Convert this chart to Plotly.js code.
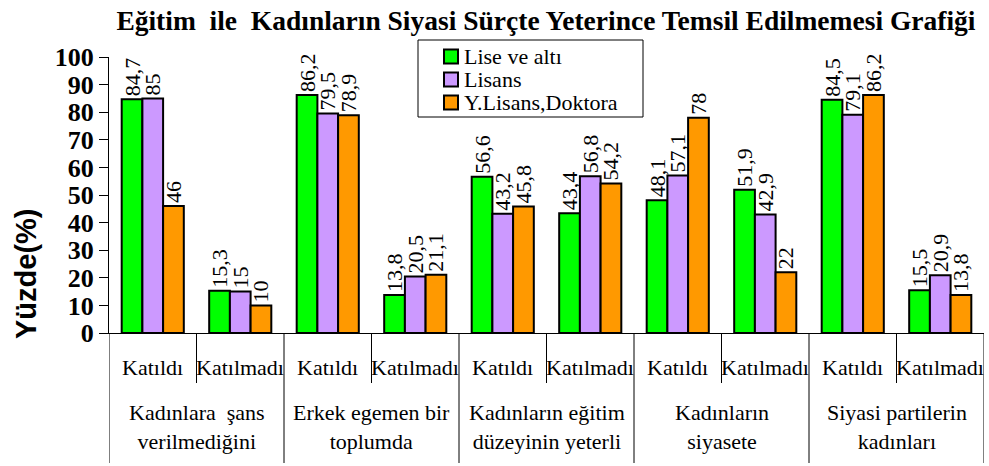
<!DOCTYPE html>
<html><head><meta charset="utf-8">
<script src="https://cdn.plot.ly/plotly-3.0.1.min.js"></script>
<style>body{margin:0;background:#fff}#c{width:989px;height:466px}</style>
</head><body><div id="c"></div>
<script>
const subLabels = ["Katıldı","Katılmadı","Katıldı","Katılmadı","Katıldı","Katılmadı","Katıldı","Katılmadı","Katıldı","Katılmadı"];
const groupLabels = ["Kadınlara  şans<br>verilmediğini","Erkek egemen bir<br>toplumda","Kadınların eğitim<br>düzeyinin yeterli","Kadınların<br>siyasete","Siyasi partilerin<br>kadınları"];
const seriesNames = ["Lise ve altı","Lisans","Y.Lisans,Doktora"];
const lise = [84.7,15.3,86.2,13.8,56.6,43.4,48.1,51.9,84.5,15.5];
const lisans = [85,15,79.5,20.5,43.2,56.8,57.1,42.9,79.1,20.9];
const ylisans = [46,10,78.9,21.1,45.8,54.2,78,22,86.2,13.8];
const colors = ["#00FF00","#CC99FF","#FF9900"];

const W = 989, H = 466, M = {l: 109, r: 5, t: 57, b: 133};
const pw = W - M.l - M.r, ph = H - M.t - M.b;
const px = x => (x - M.l) / pw;          // pixel -> paper x
const py = y => (H - M.b - y) / ph;      // pixel -> paper y

const xs = subLabels.map((_, i) => i);
const fmt = v => String(v).replace('.', ',');
const serif = "Liberation Serif";

const traces = [lise, lisans, ylisans].map((vals, k) => ({
  type: 'bar', x: xs, y: vals, name: seriesNames[k],
  marker: {color: colors[k], line: {color: '#000', width: 2}},
  text: vals.map(fmt), textposition: 'outside', textangle: -90,
  constraintext: 'none', cliponaxis: false,
  textfont: {family: serif, size: 22, color: '#000'},
  hoverinfo: 'none', showlegend: false
}));

const shapes = [];
const annotations = [];
for (let i = 0; i <= subLabels.length; i++) {
  const isGroup = i % 2 === 0;
  shapes.push({type: 'line', xref: 'x', yref: 'paper', x0: i - 0.5, x1: i - 0.5,
    y0: 0, y1: isGroup ? py(463) : py(383), line: {color: '#000', width: 1}});
}
subLabels.forEach((t, i) => annotations.push({xref: 'x', yref: 'paper', x: i, y: py(367),
  text: t, showarrow: false, font: {family: serif, size: 22, color: '#000'}, xanchor: 'center', yanchor: 'middle'}));
groupLabels.forEach((t, g) => annotations.push({xref: 'x', yref: 'paper', x: 2 * g + 0.5, y: py(427),
  text: t, showarrow: false, font: {family: serif, size: 22, color: '#000'}, xanchor: 'center', yanchor: 'middle'}));
annotations.push({xref: 'paper', yref: 'paper', x: px(26), y: py(274), text: '<b>Yüzde(%)</b>', textangle: -90,
  xanchor: 'center', yanchor: 'middle',
  showarrow: false, font: {family: 'Liberation Sans', size: 29, color: '#000'}});

// legend box (drawn as shapes + text so its compact spacing matches)
shapes.push({type: 'rect', xref: 'paper', yref: 'paper', x0: px(418), x1: px(643), y0: py(117), y1: py(40),
  fillcolor: '#fff', line: {color: '#000', width: 1}, layer: 'above'});
seriesNames.forEach((name, k) => {
  const cy = 56.5 + 23 * k;
  shapes.push({type: 'rect', xref: 'paper', yref: 'paper', x0: px(444), x1: px(458), y0: py(cy + 7), y1: py(cy - 7),
    fillcolor: colors[k], line: {color: '#000', width: 2}, layer: 'above'});
  annotations.push({xref: 'paper', yref: 'paper', x: px(462), y: py(cy), text: name, showarrow: false,
    xanchor: 'left', yanchor: 'middle', font: {family: serif, size: 22, color: '#000'}});
});

const layout = {
  width: W, height: H, margin: M,
  paper_bgcolor: '#fff', plot_bgcolor: '#fff',
  font: {family: serif, color: '#000'},
  title: {text: '<b>Eğitim  ile  Kadınların Siyasi Sürçte Yeterince Temsil Edilmemesi Grafiği</b>',
    x: 0.552, xanchor: 'center', y: 0.957, yanchor: 'middle',
    font: {family: serif, size: 27.5, color: '#000'}},
  barmode: 'group', bargap: 0.29, bargroupgap: 0,
  xaxis: {range: [-0.5, 9.5], showticklabels: false, showgrid: false, zeroline: false,
    showline: true, linecolor: '#000', linewidth: 1, ticks: '', fixedrange: true},
  yaxis: {range: [0, 100], dtick: 10, showgrid: false, zeroline: false, showline: true,
    linecolor: '#000', linewidth: 1, ticks: 'outside', ticklen: 9, tickcolor: '#000',
    tickfont: {family: serif, size: 26, color: '#000', weight: 'bold'}},
  shapes: shapes, annotations: annotations, showlegend: false
};
Plotly.newPlot('c', traces, layout, {displayModeBar: false, staticPlot: true});
</script></body></html>
